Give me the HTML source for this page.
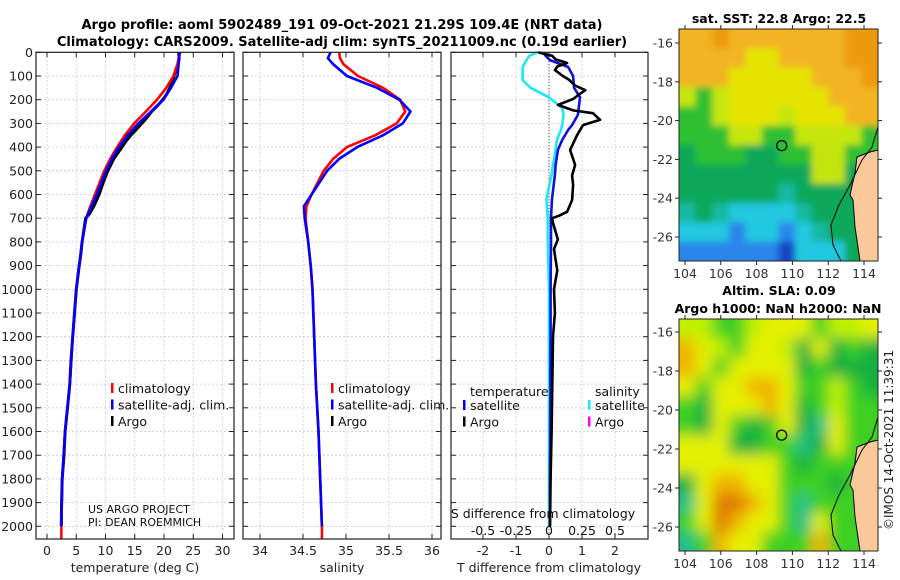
<!DOCTYPE html>
<html><head><meta charset="utf-8">
<style>
html,body{margin:0;padding:0;background:#fff;}
svg{display:block;font-family:"DejaVu Sans","Liberation Sans",sans-serif;}
</style></head>
<body>
<svg id="fig" width="900" height="580" viewBox="0 0 900 580" xmlns="http://www.w3.org/2000/svg">
<defs>
<filter id="blurSst" x="-10%" y="-10%" width="120%" height="120%"><feGaussianBlur stdDeviation="3.5"/></filter>
<filter id="blurSla" x="-10%" y="-10%" width="120%" height="120%"><feGaussianBlur stdDeviation="7"/></filter>
<clipPath id="clipSst"><rect x="679" y="29" width="199" height="232"/></clipPath>
<clipPath id="clipSla"><rect x="679" y="319" width="199" height="232"/></clipPath>
</defs>
<text x="342" y="29" text-anchor="middle" font-size="13" font-weight="bold">Argo profile: aoml 5902489_191 09-Oct-2021 21.29S 109.4E (NRT data)</text>
<text x="342" y="46" text-anchor="middle" font-size="13" font-weight="bold">Climatology: CARS2009. Satellite-adj clim: synTS_20211009.nc (0.19d earlier)</text>
<text x="779" y="23" text-anchor="middle" font-size="12.5" font-weight="bold">sat. SST: 22.8 Argo: 22.5</text>
<text x="779" y="295" text-anchor="middle" font-size="12.5" font-weight="bold">Altim. SLA: 0.09</text>
<text x="778" y="313" text-anchor="middle" font-size="12.5" font-weight="bold">Argo h1000: NaN h2000: NaN</text>
<text transform="translate(893,440) rotate(-90)" text-anchor="middle" font-size="12" fill="#222">©IMOS 14-Oct-2021 11:39:31</text>
</svg>
<script>
// ---- profile data ----
const depths = [0,25,50,100,150,200,250,300,350,400,450,500,600,650,700,800,900,1000,1200,1400,1600,1800,2000];
const tClim = [22.8,22.5,22.3,21.6,20.4,18.8,16.9,14.9,13.3,12.0,10.8,9.8,8.2,7.4,6.7,6.0,5.5,5.0,4.4,3.9,3.1,2.6,2.45];
const tSat  = [22.6,22.6,22.5,22.3,21.2,19.9,17.8,15.6,13.8,12.3,11.1,10.1,8.5,7.6,6.7,6.0,5.5,5.0,4.4,3.9,3.1,2.6,2.45];
const argoDepths = [0,25,50,75,100,125,150,175,200,225,250,275,300,325,350,375,400,425,450,475,500,550,600,650,680,700,750,800,850,900,1000,1100,1200,1300,1400,1500,1600,1700,1800,1900,2000];
const tArgo = [22.5,22.6,22.4,22.0,21.7,21.4,21.0,20.5,19.8,18.9,17.9,17.1,16.2,15.3,14.3,13.5,12.8,12.1,11.4,10.9,10.4,9.6,8.9,8.0,7.3,6.6,6.3,6.0,5.8,5.5,5.0,4.7,4.4,4.1,3.9,3.5,3.1,2.9,2.6,2.5,2.45];
const sClim = [34.92,34.93,34.97,35.14,35.43,35.63,35.69,35.59,35.34,35.01,34.85,34.74,34.60,34.54,34.53,34.56,34.59,34.61,34.63,34.65,34.68,34.70,34.72];
const sSat  = [34.82,34.79,34.85,35.01,35.36,35.62,35.75,35.66,35.43,35.13,34.92,34.78,34.60,34.51,34.52,34.56,34.59,34.61,34.63,34.65,34.68,34.70,34.72];
const dDepths = [0,15,33,62,100,117,150,190,235,263,307,328,370,412,475,517,620,700,800,1000,1200,1500,1800,2000];
const sSatDiff = [-0.09,-0.15,-0.17,-0.2,-0.2,-0.2,-0.14,0.0,0.1,0.11,0.1,0.09,0.06,0.05,0.03,0.02,-0.02,-0.01,-0.01,0,0,0,0,0];
const tSatDiff = [-0.18,-0.1,0.03,0.58,0.73,0.74,0.76,0.94,0.9,0.88,0.7,0.58,0.4,0.27,0.2,0.18,0.09,0.06,0.06,0.05,0.05,0.04,0.03,0.03];
const adDepths = [0,15,30,45,60,75,100,115,140,160,175,197,222,245,257,285,307,350,412,475,520,560,623,673,690,700,720,790,830,875,920,1000,1100,1200,1400,1600,1800,2000];
const tArgoDiff = [-0.33,0.1,0.2,0.55,0.25,0.18,0.42,0.6,0.79,1.1,0.94,0.73,0.27,0.73,1.33,1.55,1.03,0.85,0.64,0.79,0.7,0.73,0.7,0.55,0.3,0.09,0.12,0.27,0.15,0.2,0.25,0.15,0.18,0.12,0.1,0.08,0.05,0.03];
const depthTicks = [0,100,200,300,400,500,600,700,800,900,1000,1100,1200,1300,1400,1500,1600,1700,1800,1900,2000];
const tTicks = [0,5,10,15,20,25,30];
const sTicks = [34,34.5,35,35.5,36];
const sTickLabels = ["34","34.5","35","35.5","36"];
const dTTicks = [-2,-1,0,1,2];
const dSTicks = [-0.5,-0.25,0,0.25,0.5];
const dSTickLabels = ["-0.5","-0.25","0","0.25","0.5"];
// map grids (colour class per cell, row = latitude band top->bottom)
const sstRows = ["ooOoooooooOO","ooooYYooooOO","oooYYYYYoooO","yGyYYYYYYooo","GGyYYYyYYYoo","GGGyyGGyyyyG","gGGGggGGyyGG","ggggggggyygG","ggggggtggggG","tgtcccctgggg","cccbccbctggg","bbbbbbBcccgg"];
const slaRows = ["yyGGyYYYGyyY","oYyGYYygYgGg","oYGYYYYgGggg","YGYYooYGGyGg","GgYYYoYgGyGG","GgYGgGYgtYGG","YYYggGGtgYGG","YYYYYYGgGGGG","gYooYYGGGgGG","tYOOoYGtGGGG","GYOoYYGtYGGG","tGoYYGGGoGGG"];
const mapLon = [104,106,108,110,112,114];
const mapLat = [-16,-18,-20,-22,-24,-26];
const argoLon = 109.4, argoLat = -21.29;

const NS = "http://www.w3.org/2000/svg";
const svg = document.getElementById('fig');
function mk(tag, attrs, parent){ const e=document.createElementNS(NS,tag); for(const k in attrs) e.setAttribute(k,attrs[k]); (parent||svg).appendChild(e); return e; }
function txt(s, attrs, parent){ const e=mk('text',attrs,parent); e.textContent=s; return e; }

const TOP=52.3, BOT=539, PPM=0.237;
const yD = d => TOP + d*PPM;
const panels = {
  t:{x0:36,x1:234, f:v=>47+v*5.85},
  s:{x0:243,x1:441, f:v=>260+(v-34)*86},
  d:{x0:451,x1:648, f:v=>549+v*33},
};
const dS = v => 549 + v*132;

function frame(p, name, leftLabels){
  const g = mk('g',{});
  
  
  depthTicks.forEach(d=>{
    const gl = mk('line',{x1:p.x0,x2:p.x1,y1:yD(d),y2:yD(d),stroke:'#c4c8e4','stroke-width':0.8,'stroke-dasharray':'2,2'},g);
    
    
    mk('line',{x1:p.x0,x2:p.x0+5,y1:yD(d),y2:yD(d),stroke:'#222'},g);
    mk('line',{x1:p.x1-5,x2:p.x1,y1:yD(d),y2:yD(d),stroke:'#222'},g);
    if(leftLabels){
      const t = txt(String(d),{x:33,y:yD(d)+4.5,'text-anchor':'end','font-size':12.5,fill:'#222'},g);
      
      
    }
  });
  return g;
}
function xgrid(g,p,vals,f){
  vals.forEach(v=>{
    const x=f(v);
    mk('line',{x1:x,x2:x,y1:TOP,y2:BOT,stroke:'#c4c8e4','stroke-width':0.8,'stroke-dasharray':'2,2'},g);
    mk('line',{x1:x,x2:x,y1:BOT-5,y2:BOT,stroke:'#222'},g);
    mk('line',{x1:x,x2:x,y1:TOP,y2:TOP+5,stroke:'#222'},g);
  });
}
function border(g,p){
  const r=mk('rect',{x:p.x0,y:TOP,width:p.x1-p.x0,height:BOT-TOP,fill:'none',stroke:'#222','stroke-width':1.2},g);
  
  
}
function line(g, ds, vs, f, color, name, w){
  const pts = ds.map((d,i)=>f(vs[i]).toFixed(1)+','+yD(d).toFixed(1)).join(' ');
  const pl = mk('polyline',{points:pts,fill:'none',stroke:color,'stroke-width':w||2.6,'stroke-linejoin':'round'},g);
  
  
  return pl;
}
function legend(g, x, y, items){
  items.forEach((it,i)=>{
    const yy=y+i*16.5;
    mk('rect',{x:x,y:yy-9,width:2.5,height:10,fill:it[1]},g);
    const t=txt(it[0],{x:x+7,y:yy+1,'font-size':12.5,fill:'#111'},g);
    
    
  });
}

// Panel 1: temperature
let p=panels.t; let g=frame(p,'temperature-panel',true);
xgrid(g,p,tTicks,p.f);
tTicks.forEach(v=>{ const t=txt(String(v),{x:p.f(v),y:555,'text-anchor':'middle','font-size':12.5,fill:'#222'},g);   });
let xl=txt('temperature (deg C)',{x:135,y:572,'text-anchor':'middle','font-size':12.5,fill:'#222'},g);
 
line(g,argoDepths,tArgo,p.f,'#000','temperature-argo-line',3);
line(g,depths,tClim,p.f,'#f00','temperature-climatology-line');
line(g,depths,tSat,p.f,'#00f','temperature-satellite-line');
mk('line',{x1:p.f(tClim[tClim.length-1]),x2:p.f(tClim[tClim.length-1]),y1:yD(2000),y2:BOT,stroke:'#f00','stroke-width':2.5},g);
legend(g,111,392,[['climatology','#f00'],['satellite-adj. clim.','#00f'],['Argo','#000']]);
let c1=txt('US ARGO PROJECT',{x:88,y:513,'font-size':11,fill:'#111'},g);
 
let c2=txt('PI: DEAN ROEMMICH',{x:88,y:526,'font-size':11,fill:'#111'},g);
 
border(g,p);

// Panel 2: salinity
p=panels.s; g=frame(p,'salinity-panel',false);
xgrid(g,p,sTicks,p.f);
sTicks.forEach((v,i)=>{ const t=txt(sTickLabels[i],{x:p.f(v),y:555,'text-anchor':'middle','font-size':12.5,fill:'#222'},g);   });
xl=txt('salinity',{x:342,y:572,'text-anchor':'middle','font-size':12.5,fill:'#222'},g);
 
line(g,depths,sClim,p.f,'#f00','salinity-climatology-line');
line(g,depths,sSat,p.f,'#00f','salinity-satellite-line');
mk('line',{x1:p.f(sClim[sClim.length-1]),x2:p.f(sClim[sClim.length-1]),y1:yD(2000),y2:BOT,stroke:'#f00','stroke-width':2.5},g);
legend(g,331,392,[['climatology','#f00'],['satellite-adj. clim.','#00f'],['Argo','#000']]);
border(g,p);

// Panel 3: differences
p=panels.d; g=frame(p,'difference-panel',false);
xgrid(g,p,dTTicks,p.f);
mk('line',{x1:549,x2:549,y1:TOP,y2:BOT,stroke:'#333','stroke-width':1,'stroke-dasharray':'1,2'},g);
dTTicks.forEach(v=>{ const t=txt(String(v),{x:p.f(v),y:555,'text-anchor':'middle','font-size':12.5,fill:'#222'},g);   });
xl=txt('T difference from climatology',{x:549,y:572,'text-anchor':'middle','font-size':12.5,fill:'#222'},g);
 
line(g,dDepths,sSatDiff,dS,'#1ee8f0','s-satellite-diff-line');
line(g,dDepths,tSatDiff,p.f,'#1010e0','t-satellite-diff-line');
line(g,adDepths,tArgoDiff,p.f,'#000','t-argo-diff-line');
dSTicks.forEach((v,i)=>{ const t=txt(dSTickLabels[i],{x:dS(v),y:535,'text-anchor':'middle','font-size':12.5,fill:'#111'},g);   });
xl=txt('S difference from climatology',{x:543,y:518,'text-anchor':'middle','font-size':12.5,fill:'#111'},g);
 
let lh=txt('temperature',{x:470,y:396,'font-size':12.5,fill:'#111'},g);
 
lh=txt('salinity',{x:595,y:396,'font-size':12.5,fill:'#111'},g);
 
legend(g,463,409,[['satellite','#00f'],['Argo','#000']]);
legend(g,588,409,[['satellite','#1ee8f0'],['Argo','#f0f']]);
border(g,p);

// ---- maps ----
const sstPal={O:'#ee9a10',o:'#f2b422',Y:'#e4e400',y:'#c4e610',G:'#2ec032',g:'#10a85a',t:'#14b8a0',c:'#20c8e0',b:'#2a86ea',B:'#1844c4'};
const slaPal={O:'#e07a00',o:'#f0b400',Y:'#e4f000',y:'#c0f000',G:'#3cd020',g:'#18b040',t:'#20c088'};
function drawMap(name, rows, pal, x0,y0,x1,y1, latTop, latPx, filt, clip){
  const g=mk('g',{});
  
  
  const cg=mk('g',{'clip-path':'url(#'+clip+')'},g);
  const fg=mk('g',{filter:'url(#'+filt+')'},cg);
  const nr=rows.length, nc=rows[0].length, cw=(x1-x0)/nc, ch=(y1-y0)/nr, M=20;
  rows.forEach((r,i)=>{ for(let j=0;j<nc;j++){
    let x=x0+j*cw, y=y0+i*ch, w=cw+0.5, h=ch+0.5;
    if(j===0){x-=M;w+=M;} if(j===nc-1){w+=M;} if(i===0){y-=M;h+=M;} if(i===nr-1){h+=M;}
    mk('rect',{x:x,y:y,width:w,height:h,fill:pal[r[j]]},fg);} });
  const lonX=v=>685+(v-104)*17.9, latY=v=>latTop+(-16-v)*latPx;
  const land=mk('polygon',{points:[[878,y0+121],[870,y0+123],[857,y0+128],[855,y0+144],[850,y0+166],[853,y0+171],[855,y0+198],[860,y1],[878,y1]].map(a=>a.join(',')).join(' '),fill:'#f9c99a',stroke:'#000','stroke-width':1},g);
   
  mk('polyline',{points:[[878,y0+98],[872,y0+118],[862,y0+131],[850,y0+156],[839,y0+176],[831,y0+196],[833,y0+216],[841,y1]].map(a=>a.join(',')).join(' '),fill:'none',stroke:'#000','stroke-width':1},g);
  mk('rect',{x:x0,y:y0,width:x1-x0,height:y1-y0,fill:'none',stroke:'#222','stroke-width':1},g);
  mapLon.forEach(v=>{ const x=lonX(v); mk('line',{x1:x,x2:x,y1:y1,y2:y1+4,stroke:'#222'},g); mk('line',{x1:x,x2:x,y1:y0-4,y2:y0,stroke:'#222'},g);
    const t=txt(String(v),{x:x,y:y1+17,'text-anchor':'middle','font-size':12.5,fill:'#333'},g);   });
  mapLat.forEach(v=>{ const y=latY(v); mk('line',{x1:x0-4,x2:x0,y1:y,y2:y,stroke:'#222'},g); mk('line',{x1:x1,x2:x1+4,y1:y,y2:y,stroke:'#222'},g);
    const t=txt(String(v),{x:x0-6,y:y+4.5,'text-anchor':'end','font-size':12.5,fill:'#333'},g);   });
  const c=mk('circle',{cx:lonX(argoLon),cy:latY(argoLat),r:5,fill:'none',stroke:'#000','stroke-width':1.3},g);
  
  
}
drawMap('sst-map',sstRows,sstPal,679,29,878,261,43,19.4,'blurSst','clipSst');
drawMap('sla-map',slaRows,slaPal,679,319,878,551,332,19.5,'blurSla','clipSla');
</script>
</body></html>
